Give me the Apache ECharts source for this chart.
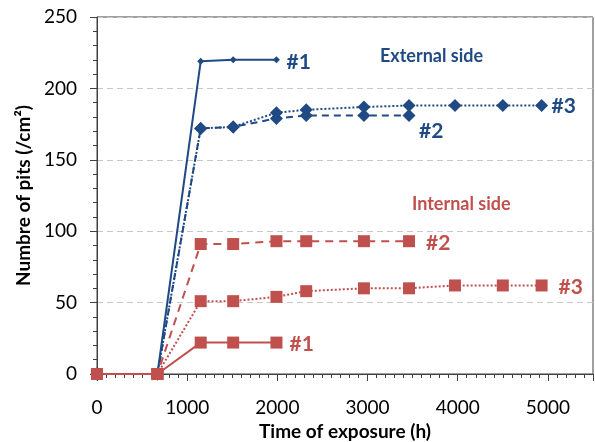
<!DOCTYPE html>
<html>
<head>
<meta charset="utf-8">
<script src="https://cdn.jsdelivr.net/npm/echarts@6/dist/echarts.min.js"></script>
<style>
  html, body { margin: 0; padding: 0; background: #fff; }
  #chart { width: 595px; height: 442px; }
</style>
</head>
<body>
<div id="chart"></div>
<script>
// exposure times (h)
let hours = [0, 670, 1150, 1510, 1990, 2320, 2960, 3460, 3970, 4500, 4930];

// external side
let ext1 = [0, 0, 219, 220, 220];
let ext2 = [0, 0, 172, 173, 179, 181, 181, 181];
let ext3 = [0, 0, 172, 173, 183, 185, 187, 188, 188, 188, 188];
// internal side
let int1 = [0, 0, 22, 22, 22];
let int2 = [0, 0, 91, 91, 93, 93, 93, 93];
let int3 = [0, 0, 51, 51, 54, 58, 60, 60, 62, 62, 62];

let xTicks = [0, 1000, 2000, 3000, 4000, 5000];
let yTicks = [0, 50, 100, 150, 200, 250];

let blue = '#1F4A84';
let red = '#C0504D';
let font = 'Lato';

function pairs(vals) {
  return vals.map(function (v, i) { return [hours[i], v]; });
}

function makeSeries(name, vals, color, dash, symbol, size, label, offset) {
  return {
    name: name,
    type: 'line',
    data: pairs(vals),
    symbol: symbol,
    symbolSize: size,
    clip: false,
    lineStyle: { color: color, width: 2, type: dash },
    itemStyle: { color: color },
    endLabel: {
      show: true,
      formatter: label,
      color: color,
      fontFamily: font,
      fontWeight: 'bold',
      fontSize: 21,
      distance: 10,
      offset: offset
    }
  };
}

let option = {
  animation: false,
  grid: {
    left: 97, right: 2, top: 17, bottom: 68,
    outerBoundsMode: 'none',
    show: true, borderColor: '#404040', borderWidth: 1
  },
  xAxis: {
    type: 'value',
    min: 0, max: 5500, interval: 1000,
    name: 'Time of exposure (h)',
    nameLocation: 'middle',
    nameGap: 46,
    nameTextStyle: { fontFamily: font, fontWeight: 'bold', fontSize: 19, color: '#000' },
    axisLine: { lineStyle: { color: '#404040', width: 1 } },
    axisTick: { show: true, length: 7, lineStyle: { color: '#404040' } },
    minorTick: { show: true, splitNumber: 10, length: 4, lineStyle: { color: '#404040' } },
    axisLabel: {
      showMaxLabel: false,
      margin: 24,
      fontFamily: font, fontSize: 19, color: '#000',
      formatter: function (v) { return xTicks.indexOf(v) >= 0 ? String(v) : ''; }
    },
    splitLine: { show: false }
  },
  yAxis: {
    type: 'value',
    min: 0, max: 250, interval: 50,
    name: 'Numbre of pits (/cm²)',
    nameLocation: 'middle',
    nameGap: 56,
    nameTextStyle: { fontFamily: font, fontWeight: 'bold', fontSize: 19, color: '#000' },
    axisLine: { show: true, lineStyle: { color: '#404040', width: 1 } },
    axisTick: { show: true, length: 7, lineStyle: { color: '#404040' } },
    minorTick: { show: true, splitNumber: 5, length: 4, lineStyle: { color: '#404040' } },
    axisLabel: {
      margin: 20,
      fontFamily: font, fontSize: 19, color: '#000',
      formatter: function (v) { return yTicks.indexOf(v) >= 0 ? String(v) : ''; }
    },
    splitLine: { show: true, lineStyle: { color: '#c8c8c8', type: [6, 4], width: 1 } }
  },
  graphic: [
    {
      type: 'text', left: 380, top: 47,
      style: { text: 'External side', fill: blue, fontFamily: font, fontWeight: 'bold', fontSize: 18 }
    },
    {
      type: 'text', left: 412, top: 195,
      style: { text: 'Internal side', fill: red, fontFamily: font, fontWeight: 'bold', fontSize: 18 }
    }
  ],
  series: [
    makeSeries('ext #2', ext2, blue, [7, 5], 'diamond', 13, '#2', [0, 16]),
    makeSeries('ext #3', ext3, blue, [2, 2], 'diamond', 13, '#3', [0, 1]),
    makeSeries('ext #1', ext1, blue, 'solid', 'diamond', 7, '#1', [0, 2]),
    makeSeries('int #2', int2, red, [8, 6], 'rect', 12, '#2', [7, 2]),
    makeSeries('int #3', int3, red, [2, 2], 'rect', 12, '#3', [7, 2]),
    makeSeries('int #1', int1, red, 'solid', 'rect', 12, '#1', [3, 2])
  ]
};

let chart = echarts.init(document.getElementById('chart'));
chart.setOption(option);
</script>
</body>
</html>
